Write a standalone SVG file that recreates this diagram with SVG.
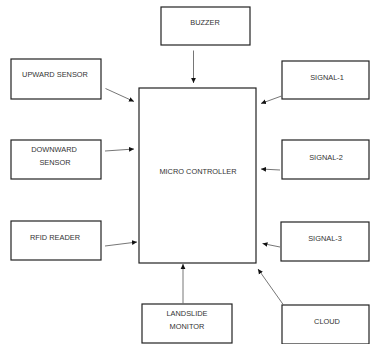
<svg xmlns="http://www.w3.org/2000/svg" width="370" height="344" viewBox="0 0 370 344">
<style>
.box{fill:#fff;stroke:#222;stroke-width:1.2}
.t{font-family:"Liberation Sans",Arial,sans-serif;font-size:7.4px;fill:#333;text-anchor:middle}
.c{stroke:#666;stroke-width:0.9;fill:none;marker-end:url(#ah)}
</style>
<defs>
<marker id="ah" markerUnits="userSpaceOnUse" markerWidth="6" markerHeight="6" refX="5" refY="3" orient="auto">
<path d="M0,0.6 L5,3 L0,5.4 Z" fill="#111"/>
</marker>
</defs>
<rect width="370" height="344" fill="#fff"/>
<g id="buzzer"><rect class="box" x="161" y="7" width="89" height="38"/><text class="t" x="205" y="25">BUZZER</text></g>
<g id="upward"><rect class="box" x="11" y="59" width="90" height="40"/><text class="t" x="55" y="77">UPWARD SENSOR</text></g>
<g id="downward"><rect class="box" x="11" y="140" width="90" height="39"/><text class="t" x="54" y="152">DOWNWARD</text><text class="t" x="55" y="164.5">SENSOR</text></g>
<g id="rfid"><rect class="box" x="11" y="221" width="90" height="39"/><text class="t" x="55" y="240">RFID READER</text></g>
<g id="mcu"><rect class="box" x="139" y="88" width="117" height="175"/><text class="t" x="198" y="174">MICRO CONTROLLER</text></g>
<g id="landslide"><rect class="box" x="142" y="304" width="90" height="39"/><text class="t" x="187" y="316">LANDSLIDE</text><text class="t" x="187" y="329">MONITOR</text></g>
<g id="signal1"><rect class="box" x="282" y="61" width="87" height="38"/><text class="t" x="327" y="80">SIGNAL-1</text></g>
<g id="signal2"><rect class="box" x="282" y="140" width="87" height="39"/><text class="t" x="326" y="159.5">SIGNAL-2</text></g>
<g id="signal3"><rect class="box" x="281" y="222" width="88" height="39"/><text class="t" x="325" y="240.5">SIGNAL-3</text></g>
<g id="cloud"><rect class="box" x="282" y="305" width="87" height="39"/><text class="t" x="327" y="324">CLOUD</text></g>
<g id="connectors">
<line class="c" x1="193.5" y1="50.5" x2="193.5" y2="83"/>
<line class="c" x1="105.5" y1="88.5" x2="134" y2="101.5"/>
<line class="c" x1="105" y1="151" x2="134" y2="149"/>
<line class="c" x1="105" y1="246" x2="137" y2="242"/>
<line class="c" x1="281.5" y1="96" x2="261" y2="103.5"/>
<line class="c" x1="280" y1="170" x2="261" y2="169"/>
<line class="c" x1="280" y1="247" x2="262.5" y2="243.5"/>
<line class="c" x1="283.5" y1="305" x2="258" y2="269"/>
<line class="c" x1="183" y1="303.5" x2="183" y2="264"/>
</g>
</svg>
